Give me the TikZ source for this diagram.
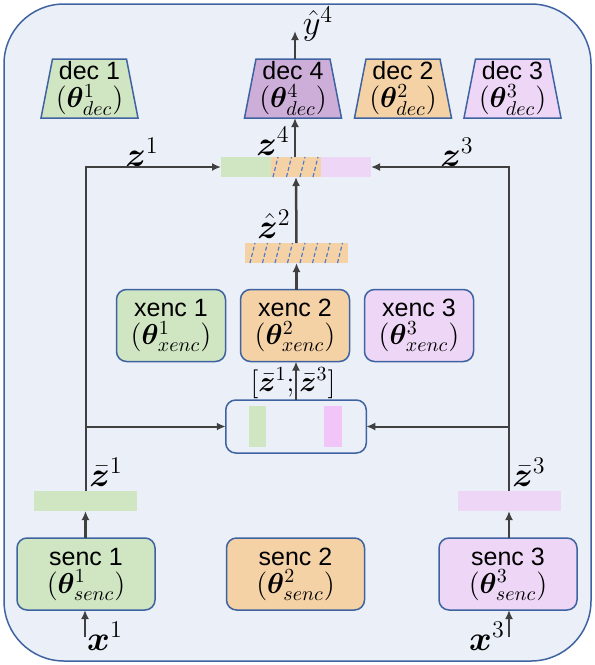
\documentclass[tikz,border=0pt]{standalone}
\usepackage{amsmath,bm}
\usepackage[no-math]{fontspec}
\setmainfont{Liberation Sans}
\usetikzlibrary{arrows.meta,shapes.geometric}

\definecolor{bgblue}{HTML}{EAEFF8}
\definecolor{edgeblue}{HTML}{3F63A1}
\definecolor{cgreen}{HTML}{D0E6C3}
\definecolor{corange}{HTML}{F4D2A6}
\definecolor{clilac}{HTML}{EED7F6}
\definecolor{cpurple}{HTML}{CDAED8}
\definecolor{cpink}{HTML}{F1C5F8}
\definecolor{cline}{HTML}{404040}
\definecolor{chatch}{HTML}{4A78D0}

\newcommand{\parm}[2]{{\fontsize{14}{15}\selectfont$(\bm{\theta}^{#1}_{#2})$}}

\begin{document}
\begin{tikzpicture}[x=0.5pt,y=-0.5pt,
	>={Latex[length=4.5pt,width=4pt]},
	txt/.style={font=\fontsize{12.5}{14}\selectfont, align=center},
	encbox/.style={txt, draw=edgeblue, line width=0.75pt, rounded corners=5pt,
		minimum width=69pt, minimum height=36pt, inner sep=0pt, outer sep=0pt},
	xencbox/.style={encbox, minimum width=54.5pt},
	decbox/.style={txt, trapezium, trapezium angle=78, trapezium stretches body=true,
		draw=edgeblue, line width=0.75pt, minimum width=48.5pt, minimum height=29.5pt,
		inner sep=0pt, outer sep=0pt},
	bar/.style={minimum width=51.5pt, minimum height=10pt, inner sep=0pt, outer sep=0pt},
	lbl/.style={font=\fontsize{17}{19}\selectfont, inner sep=0pt},
	flow/.style={->, cline, line width=1.25pt},
	wire/.style={->, cline, line width=1pt},
	hatch/.style={chatch, line width=0.6pt, dash pattern=on 2pt off 1.2pt}]
	\useasboundingbox (0,0) rectangle (595,665);
	% frame
	\draw[edgeblue, line width=0.75pt, fill=bgblue, rounded corners=30pt] (4,4) rectangle (591,661);
	% decoders
	\node[decbox, fill=cgreen]  (dec1) at (89.5,88.5) {dec 1\\\parm{1}{dec}};
	\node[decbox, fill=cpurple] (dec4) at (293,88.5) {dec 4\\\parm{4}{dec}};
	\node[decbox, fill=corange] (dec2) at (403,88.5) {dec 2\\\parm{2}{dec}};
	\node[decbox, fill=clilac]  (dec3) at (512.5,88.5) {dec 3\\\parm{3}{dec}};
	\coordinate (yhat) at (295,31);
	\node[lbl] (yhatlbl) at (318,24) {$\hat{y}^4$};
	% z4 bar
	\node[bar, minimum width=75pt] (z4bar) at (296,167) {};
	\fill[cgreen]  (221,157) rectangle (271,177);
	\fill[corange] (271,157) rectangle (320.5,177);
	\fill[clilac]  (320.5,157) rectangle (371,177);
	\draw[hatch] (273,177) -- (278,157);
	\draw[hatch] (286.5,177) -- (291.5,157);
	\draw[hatch] (300,177) -- (305,157);
	\draw[hatch] (313,177) -- (318,157);
	\node[lbl] (z4lbl) at (273,141) {$\bm{z}^4$};
	\node[lbl] (z1lbl) at (142,152) {$\bm{z}^1$};
	\node[lbl] (z3lbl) at (457,152) {$\bm{z}^3$};
	% z hat 2 bar
	\node[bar, fill=corange] (zh2) at (296.5,253) {};
	\draw[hatch] (250,263) -- (255,243);
	\draw[hatch] (262.5,263) -- (267.5,243);
	\draw[hatch] (275,263) -- (280,243);
	\draw[hatch] (287.5,263) -- (292.5,243);
	\draw[hatch] (300,263) -- (305,243);
	\draw[hatch] (312.5,263) -- (317.5,243);
	\draw[hatch] (325,263) -- (330,243);
	\draw[hatch] (337.5,263) -- (342.5,243);
	\node[lbl] (zh2lbl) at (274,224) {$\hat{\bm{z}}^2$};
	% cross encoders
	\node[xencbox, fill=cgreen]  (xenc1) at (171,325.5) {xenc 1\\\parm{1}{xenc}};
	\node[xencbox, fill=corange] (xenc2) at (295,325.5) {xenc 2\\\parm{2}{xenc}};
	\node[xencbox, fill=clilac]  (xenc3) at (419,325.5) {xenc 3\\\parm{3}{xenc}};
	% concat box
	\node[draw=edgeblue, line width=0.75pt, fill=bgblue, rounded corners=5pt,
		minimum width=70.25pt, minimum height=26.5pt, inner sep=0pt, outer sep=0pt] (cat) at (296,426.5) {};
	\fill[cgreen] (249,406) rectangle (266,447);
	\fill[cpink]  (324,406) rectangle (341.5,447);
	% single encoders
	\node[encbox, fill=cgreen]  (senc1) at (86,574) {senc 1\\\parm{1}{senc}};
	\node[encbox, fill=corange] (senc2) at (295.5,574) {senc 2\\\parm{2}{senc}};
	\node[encbox, fill=clilac]  (senc3) at (508,574) {senc 3\\\parm{3}{senc}};
	\node[bar, fill=cgreen] (zb1) at (85.5,501) {};
	\node[bar, fill=clilac] (zb3) at (509,501) {};
	\node[lbl] (zb1lbl) at (106,472) {$\bar{\bm{z}}^1$};
	\node[lbl] (zb3lbl) at (529,472) {$\bar{\bm{z}}^3$};
	\coordinate (x1in) at (85,637);
	\coordinate (x3in) at (509,637);
	\node[lbl] (x1lbl) at (105,636) {$\bm{x}^1$};
	\node[lbl] (x3lbl) at (487,636) {$\bm{x}^3$};
	% arrows
	\draw[flow] (x1in) -- (x1in |- senc1.south);
	\draw[flow] (x3in) -- (x3in |- senc3.south);
	\draw[flow] (senc1.north -| zb1) -- (zb1.south);
	\draw[flow] (senc3.north -| zb3) -- (zb3.south);
	\draw[wire] (zb1.north) |- (z4bar.west);
	\draw[wire] (zb3.north) |- (z4bar.east);
	\draw[wire] (zb1.north |- cat.west) -- (cat.west);
	\draw[wire] (zb3.north |- cat.east) -- (cat.east);
	\draw[flow] (cat.north) -- (cat.north |- xenc2.south);
	\draw[flow] (xenc2.north -| zh2) -- (zh2.south);
	\draw[flow] (zh2.north) -- (z4bar.south);
	\draw[flow] (z4bar.north -| yhat) -- (yhat |- dec4.south);
	\draw[flow] (dec4.north -| yhat) -- (yhat);
	\node[lbl, font=\fontsize{14}{16}\selectfont] (catlbl) at (293,383) {$[\bar{\bm{z}}^1;\bar{\bm{z}}^3]$};
\end{tikzpicture}
\end{document}
